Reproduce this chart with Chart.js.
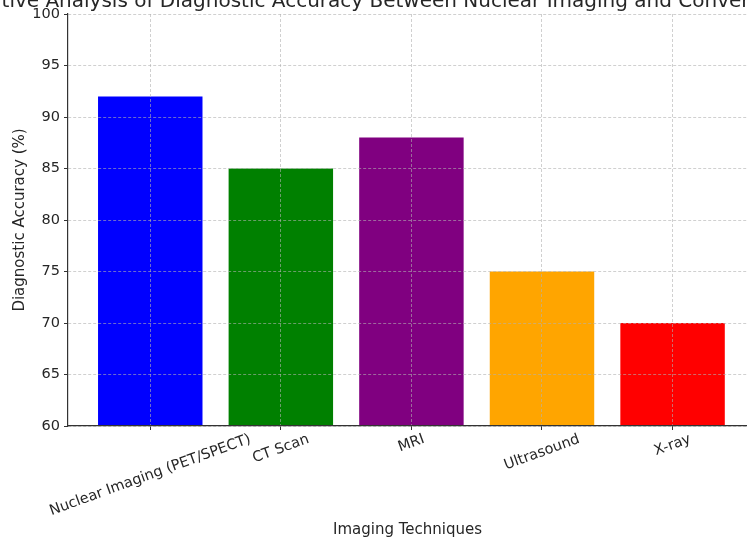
<!DOCTYPE html>
<html lang="en">
<head>
    <meta charset="UTF-8">
    <title>Diagnostic Accuracy</title>
    <script src="https://cdn.jsdelivr.net/npm/chart.js"></script>
    <style>
        body { margin: 0; overflow: hidden; background: #fff; }
        #wrap { width: 747px; height: 541px; position: relative; }
    </style>
</head>
<body>
    <div id="wrap"><canvas id="chart"></canvas></div>

    <script>
        // chart data
        const techniques = ['Nuclear Imaging (PET/SPECT)', 'CT Scan', 'MRI', 'Ultrasound', 'X-ray'];
        const accuracy = [92, 85, 88, 75, 70];
        const barColors = ['#0000ff', '#008000', '#800080', '#ffa500', '#ff0000'];
        const yTicks = [60, 65, 70, 75, 80, 85, 90, 95, 100];
        const chartTitle = 'Comparative Analysis of Diagnostic Accuracy Between Nuclear Imaging and Conventional Techniques';

        const FONT = '"DejaVu Sans", sans-serif';
        const TEXT = '#262626';
        const gridColor = 'rgba(176,176,176,0.6)';

        // title centred over the (wider) matplotlib-style axes, cut by the canvas
        const titlePlugin = {
            id: 'titlePlugin',
            afterDraw(chart) {
                const ctx = chart.ctx;
                ctx.save();
                ctx.font = '20px ' + FONT;
                ctx.fillStyle = TEXT;
                ctx.textAlign = 'center';
                ctx.textBaseline = 'alphabetic';
                ctx.fillText(chartTitle, 419, 7);
                ctx.restore();
            }
        };

        // rotated x tick labels, centred under each bar
        const xLabelPlugin = {
            id: 'xLabelPlugin',
            afterDraw(chart) {
                const ctx = chart.ctx;
                const xs = chart.scales.x;
                const bottom = chart.chartArea.bottom;
                const ang = 20 * Math.PI / 180;
                const h = 14.5;
                ctx.save();
                ctx.font = h + 'px ' + FONT;
                ctx.fillStyle = TEXT;
                ctx.textAlign = 'center';
                ctx.textBaseline = 'middle';
                techniques.forEach((t, i) => {
                    const w = ctx.measureText(t).width;
                    const H = w * Math.sin(ang) + h * Math.cos(ang);
                    const x = xs.getPixelForValue(i);
                    const y = bottom + 6 + H / 2;
                    ctx.save();
                    ctx.translate(x, y);
                    ctx.rotate(-ang);
                    ctx.fillText(t, 0, 0);
                    ctx.restore();
                });
                ctx.restore();
            }
        };

        new Chart(document.getElementById('chart'), {
            type: 'bar',
            data: {
                datasets: [{
                    data: accuracy.map((v, i) => ({ x: i, y: v })),
                    backgroundColor: barColors,
                    borderWidth: 0,
                    barPercentage: 0.8,
                    categoryPercentage: 1.0
                }]
            },
            options: {
                responsive: true,
                maintainAspectRatio: false,
                animation: false,
                layout: { padding: { top: 14, left: 0, right: 0, bottom: 0 } },
                plugins: {
                    legend: { display: false },
                    tooltip: { enabled: false },
                    title: { display: false }
                },
                scales: {
                    x: {
                        type: 'linear',
                        min: -0.63,
                        max: 4.57,
                        offset: false,
                        z: 1,
                        afterBuildTicks: s => { s.ticks = techniques.map((_, i) => ({ value: i })); },
                        afterFit: s => { s.height = 115; },
                        ticks: { display: false },
                        grid: {
                            offset: false,
                            z: 1,
                            color: gridColor,
                            lineWidth: 1,
                            drawTicks: true,
                            tickLength: 4,
                            tickColor: '#333'
                        },
                        border: { display: true, z: 2, color: '#333', width: 1.2, dash: [3, 2] },
                        title: {
                            display: true,
                            text: 'Imaging Techniques',
                            color: TEXT,
                            font: { family: FONT, size: 15 },
                            padding: { top: 0, bottom: 2 }
                        }
                    },
                    y: {
                        min: 60,
                        max: 100,
                        z: 1,
                        afterBuildTicks: s => { s.ticks = yTicks.map(v => ({ value: v })); },
                        afterFit: s => { s.width = 68; },
                        ticks: {
                            color: TEXT,
                            font: { family: FONT, size: 14.5 },
                            padding: 4
                        },
                        grid: {
                            z: 1,
                            color: gridColor,
                            lineWidth: 1,
                            drawTicks: true,
                            tickLength: 4,
                            tickColor: '#333'
                        },
                        border: { display: true, z: 2, color: '#333', width: 1.2, dash: [3, 2] },
                        title: {
                            display: true,
                            text: 'Diagnostic Accuracy (%)',
                            color: TEXT,
                            font: { family: FONT, size: 15 },
                            padding: { top: 11, bottom: 0 }
                        }
                    }
                }
            },
            plugins: [titlePlugin, xLabelPlugin]
        });
    </script>
</body>
</html>
